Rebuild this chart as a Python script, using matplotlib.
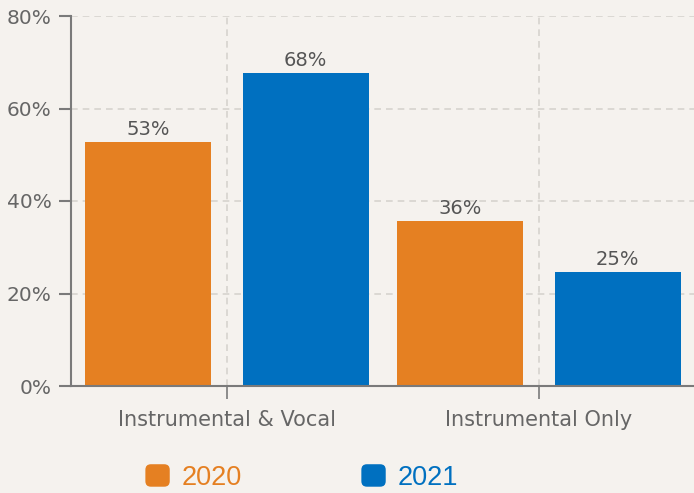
import matplotlib
matplotlib.use("Agg")
import matplotlib.pyplot as plt
import numpy as np
from matplotlib.patches import FancyBboxPatch, Patch
from matplotlib.legend_handler import HandlerPatch

categories = ["Instrumental & Vocal", "Instrumental Only"]
series_names = ["2020", "2021"]
values_2020 = [52.8, 35.7]
values_2021 = [67.7, 24.6]
y_ticks = [0, 20, 40, 60, 80]
y_tick_labels = ["0%", "20%", "40%", "60%", "80%"]

colors = ["#e58022", "#0070c0"]
bg = "#f5f2ee"
plt.rcParams['font.family'] = ['DejaVu Sans']

fig = plt.figure(figsize=(6.94, 4.93), dpi=100, facecolor=bg)
ax = fig.add_axes([71/694, 1-386/493, 624/694, 370/493])
ax.set_facecolor(bg)

x = np.arange(len(categories))
w = 0.404
offs = [-0.252, 0.252]
for vals, off, c, name in zip([values_2020, values_2021], offs, colors, series_names):
    bars = ax.bar(x + off, vals, width=w, color=c, label=name, zorder=3)
    for b, v in zip(bars, vals):
        ax.text(b.get_x() + b.get_width()/2, v + 0.6, f"{round(v)}%", ha="center", va="bottom",
                fontsize=14, color="#555555", zorder=4)

ax.set_xlim(-0.5, 1.5)
ax.set_ylim(0, 80)
ax.set_yticks(y_ticks)
ax.set_yticklabels(y_tick_labels)
ax.set_xticks(x)
ax.set_xticklabels(categories)

for s in ["top", "right"]:
    ax.spines[s].set_visible(False)
for s in ["left", "bottom"]:
    ax.spines[s].set_color("#7a7a7a")
    ax.spines[s].set_linewidth(1.5)
    ax.spines[s].set_zorder(5)

ax.tick_params(axis="y", length=9, width=1.5, color="#7a7a7a", labelcolor="#666666", labelsize=14.5, pad=5)
ax.tick_params(axis="x", length=9, width=1.2, color="#7a7a7a", labelcolor="#666666", labelsize=15, pad=8)
ax.grid(True, color="#d6d3ce", linestyle=(0, (4, 3)), linewidth=1.2, zorder=0)
ax.set_axisbelow(True)

class RoundHandler(HandlerPatch):
    def create_artists(self, legend, orig_handle, xdescent, ydescent, width, height, fontsize, trans):
        p = FancyBboxPatch((-xdescent, -ydescent), width, height,
                           boxstyle="round,pad=0,rounding_size=4",
                           facecolor=orig_handle.get_facecolor(), edgecolor="none", transform=trans)
        return [p]

handles = [Patch(facecolor=c, label=n) for c, n in zip(colors, series_names)]
leg = fig.legend(handles=handles, loc="lower center", bbox_to_anchor=(0.435, -0.045), ncol=2,
                 frameon=False, fontsize=19.5, handlelength=0.9, handleheight=0.9,
                 columnspacing=4.4, handletextpad=0.45,
                 handler_map={Patch: RoundHandler()})
for t, c in zip(leg.get_texts(), colors):
    t.set_color(c)
    t.set_family(['Liberation Sans', 'DejaVu Sans'])

fig.savefig("out.png", dpi=100, facecolor=bg)
